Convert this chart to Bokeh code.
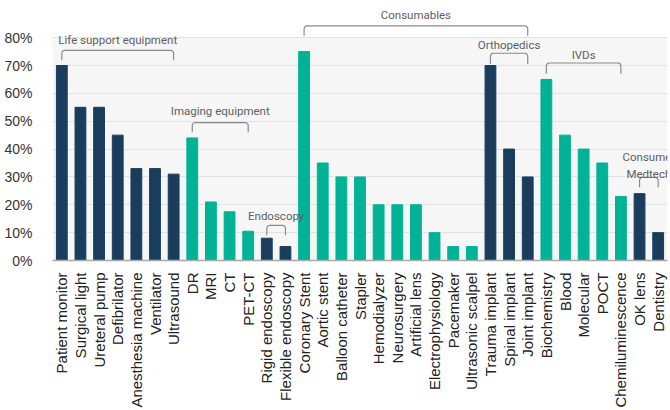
import math
from bokeh.plotting import figure
from bokeh.models import FactorRange, Range1d, FixedTicker, PrintfTickFormatter, BoxAnnotation, ColumnDataSource
from bokeh.core.properties import value
from bokeh.embed import file_html
from bokeh.resources import INLINE

categories = ["Patient monitor", "Surgical light", "Ureteral pump", "Defibrilator", "Anesthesia machine",
              "Ventilator", "Ultrasound", "DR", "MRI", "CT", "PET-CT", "Rigid endoscopy",
              "Flexible endoscopy", "Coronary Stent", "Aortic stent", "Balloon catheter", "Stapler",
              "Hemodialyzer", "Neurosurgery", "Artificial lens", "Electrophysiology", "Pacemaker",
              "Ultrasonic scalpel", "Trauma implant", "Spinal implant", "Joint implant", "Biochemistry",
              "Blood", "Molecular", "POCT", "Chemiluminescence", "OK lens", "Dentistry"]
values = [70, 55, 55, 45, 33, 33, 31, 44, 21, 17.5, 10.5, 8, 5, 75, 35, 30, 30, 20, 20, 20, 10, 5, 5,
          70, 40, 30, 65, 45, 40, 35, 23, 24, 10]

# colour segment of each bar (0 = navy, 1 = teal)
segments = [0] * 7 + [1] * 4 + [0] * 2 + [1] * 10 + [0] * 3 + [1] * 5 + [0] * 2

group_labels = ["Life support equipment", "Imaging equipment", "Endoscopy", "Consumables",
                "Orthopedics", "IVDs", "Consumer\nMedtech"]
group_first = ["Patient monitor", "DR", "Rigid endoscopy", "Coronary Stent", "Trauma implant",
               "Biochemistry", "OK lens"]
group_last = ["Ultrasound", "PET-CT", "Flexible endoscopy", "Joint implant", "Joint implant",
              "Chemiluminescence", "Dentistry"]

y_ticks = [0, 10, 20, 30, 40, 50, 60, 70, 80]

# ---- layout (bracket levels in % units: text, bracket top, bracket bottom) ----
levels = {
    "Life support equipment": (79.3, 75.4, 71.9),
    "Imaging equipment": (53.7, 49.5, 46.0),
    "Endoscopy": (15.8, 12.6, 9.1),
    "Consumables": (88.1, 84.2, 80.7),
    "Orthopedics": (77.5, 74.4, 70.5),
    "IVDs": (73.7, 70.9, 67.0),
    "Consumer\nMedtech": (34.0, 29.8, 26.3),
}
RX, RY = 0.16, 1.05  # corner radius in data units (~3 px)

NAVY = "#1b3d5d"
TEAL = "#00b396"
palette = [NAVY, TEAL]

p = figure(width=670, height=410, output_backend="svg", toolbar_location=None,
           x_range=FactorRange(factors=categories, range_padding=0),
           y_range=Range1d(0, 266 / 2.85),
           min_border_left=52, min_border_right=3, min_border_top=0, min_border_bottom=144)
p.outline_line_color = None
p.background_fill_color = "white"
p.border_fill_color = "white"

p.add_layout(BoxAnnotation(bottom=0, top=80, fill_color="#f6f6f6", fill_alpha=1,
                           line_color=None, level="image"))

src = ColumnDataSource(dict(x=categories, top=values, color=[palette[s] for s in segments]))
p.vbar(x="x", top="top", width=0.58, color="color", source=src)

# brackets with rounded corners
xs, ys, tx, ty, tt = [], [], [], [], []
n_arc = 5
for lab, a, b in zip(group_labels, group_first, group_last):
    i0 = categories.index(a) + 0.5
    i1 = categories.index(b) + 0.5
    t, top, bot = levels[lab]
    px, py = [i0], [bot]
    for k in range(n_arc + 1):
        ang = math.pi - (math.pi / 2) * k / n_arc
        px.append(i0 + RX + RX * math.cos(ang))
        py.append(top - RY + RY * math.sin(ang))
    for k in range(n_arc + 1):
        ang = math.pi / 2 - (math.pi / 2) * k / n_arc
        px.append(i1 - RX + RX * math.cos(ang))
        py.append(top - RY + RY * math.sin(ang))
    px.append(i1)
    py.append(bot)
    xs.append(px)
    ys.append(py)
    tx.append((i0 + i1) / 2)
    ty.append(t)
    tt.append(lab)
p.multi_line(xs, ys, line_color="#8a8a8a", line_width=1.2, line_join="round")
p.text(tx, ty, text=tt, text_font=value("Roboto"), text_font_size="11.5px",
       text_color="#606060", text_align="center", text_baseline="middle", text_line_height=1.23)

# axes
p.yaxis.ticker = FixedTicker(ticks=y_ticks)
p.yaxis.formatter = PrintfTickFormatter(format="%d%%")
p.yaxis.axis_line_color = None
p.yaxis.major_tick_line_color = None
p.yaxis.minor_tick_line_color = None
p.yaxis.major_label_standoff = 14
p.yaxis.major_label_text_font = "Liberation Sans"
p.yaxis.major_label_text_font_size = "14px"
p.yaxis.major_label_text_color = "#333333"

p.xaxis.major_label_orientation = math.pi / 2
p.xaxis.major_tick_line_color = None
p.xaxis.axis_line_color = "#aaaaaa"
p.xaxis.axis_line_width = 1.5
p.xaxis.major_label_standoff = 6
p.xaxis.major_label_text_font = "Liberation Sans"
p.xaxis.major_label_text_font_size = "15px"
p.xaxis.major_label_text_color = "#222222"

p.xgrid.grid_line_color = None
p.ygrid.ticker = FixedTicker(ticks=y_ticks[1:])
p.ygrid.grid_line_color = "#e2e2e2"
p.ygrid.grid_line_width = 1

open("out.html", "w").write(file_html(p, INLINE))
